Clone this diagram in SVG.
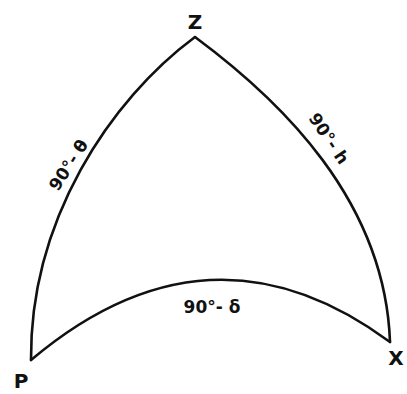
<svg xmlns="http://www.w3.org/2000/svg" width="407" height="394" viewBox="0 0 407 394">
<style>
.arc{fill:none;stroke:#111;stroke-width:2.6;stroke-linecap:round}
.v{font-family:"DejaVu Sans",sans-serif;font-weight:bold;fill:#111}
.lab{font-family:"DejaVu Sans",sans-serif;font-weight:bold;fill:#111;font-size:17px}
</style>
<rect width="407" height="394" fill="#fff"/>
<g id="connectors">
<path class="arc" d="M195,37 C110,100 30,220 31,360"/>
<path class="arc" d="M195,37 C280,100 385,200 390,342"/>
<path class="arc" d="M31,360 Q210,209 390,342"/>
</g>
<g id="Z"><text class="v" x="195" y="29" font-size="20" text-anchor="middle">Z</text></g>
<g id="P"><text class="v" x="21" y="388" font-size="20" text-anchor="middle">P</text></g>
<g id="X"><text class="v" x="396" y="365" font-size="20" text-anchor="middle">X</text></g>
<g id="side-ZP"><text class="lab" transform="translate(58,192) rotate(-57)">90°- θ</text></g>
<g id="side-ZX"><text class="lab" transform="translate(308,118) rotate(56)">90°- h</text></g>
<g id="side-PX"><text class="lab" x="212" y="313" font-size="20" text-anchor="middle">90°- δ</text></g>
</svg>
